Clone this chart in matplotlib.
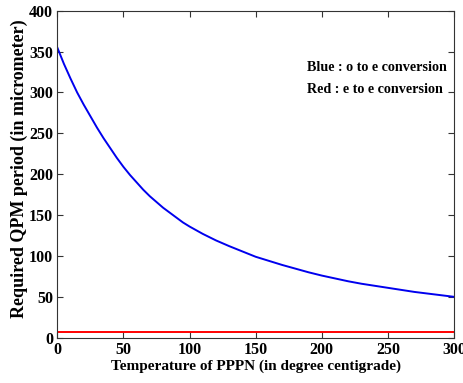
import matplotlib
matplotlib.use("Agg")
import matplotlib.pyplot as plt

# Temperature of PPPN (deg C) and required QPM period (micrometer)
temperature = [0, 5, 10, 15, 20, 25, 30, 35, 40, 45, 50, 55, 60, 65, 70, 75,
               80, 85, 90, 95, 100, 110, 120, 130, 140, 150, 160, 170, 180,
               190, 200, 210, 220, 230, 240, 250, 260, 270, 280, 290, 300]
period_o_to_e = [355, 335, 317, 300, 285, 271, 257, 244, 232, 220, 209, 199,
                 190, 181, 173, 166, 159, 153, 147, 141, 136, 127, 119, 112,
                 105.5, 99, 94, 89, 84.5, 80, 76, 72.5, 69, 66, 63.5, 61, 58.5,
                 56, 54, 52, 50]
period_e_to_e = [7] * len(temperature)

x_ticks = [0, 50, 100, 150, 200, 250, 300]
y_ticks = [0, 50, 100, 150, 200, 250, 300, 350, 400]

plt.rcParams['font.family'] = ['Liberation Serif', 'DejaVu Serif']
plt.rcParams['font.weight'] = 'bold'

fig = plt.figure(figsize=(4.64, 3.83), dpi=100)
ax = fig.add_axes([0.1235, 0.1183, 0.855, 0.8537])

ax.plot(temperature, period_o_to_e, color='#0000ee', lw=1.4)
ax.plot(temperature, period_e_to_e, color='#ff0000', lw=1.4)

ax.set_xlim(0, 300)
ax.set_ylim(0, 400)
ax.set_xticks(x_ticks)
ax.set_yticks(y_ticks)
ax.tick_params(direction='in', top=True, right=True, length=4, width=0.8,
               labelsize=11.5, color='#333333', pad=3)
for lbl in ax.get_xticklabels() + ax.get_yticklabels():
    lbl.set_fontweight('bold')
for s in ax.spines.values():
    s.set_color('#333333')
    s.set_linewidth(0.8)

ax.set_xlabel('Temperature of PPPN (in degree centigrade)', fontsize=11,
              fontweight='bold', labelpad=1)
ax.set_ylabel('Required QPM period (in micrometer)', fontsize=13,
              fontweight='bold')
ax.yaxis.set_label_coords(-0.074, 0.516)

ax.text(189, 330, 'Blue : o to e conversion', fontsize=10.2, fontweight='bold',
        va='center', ha='left')
ax.text(189, 304, 'Red : e to e conversion', fontsize=10.2, fontweight='bold',
        va='center', ha='left')

fig.savefig('out.png', dpi=100)
